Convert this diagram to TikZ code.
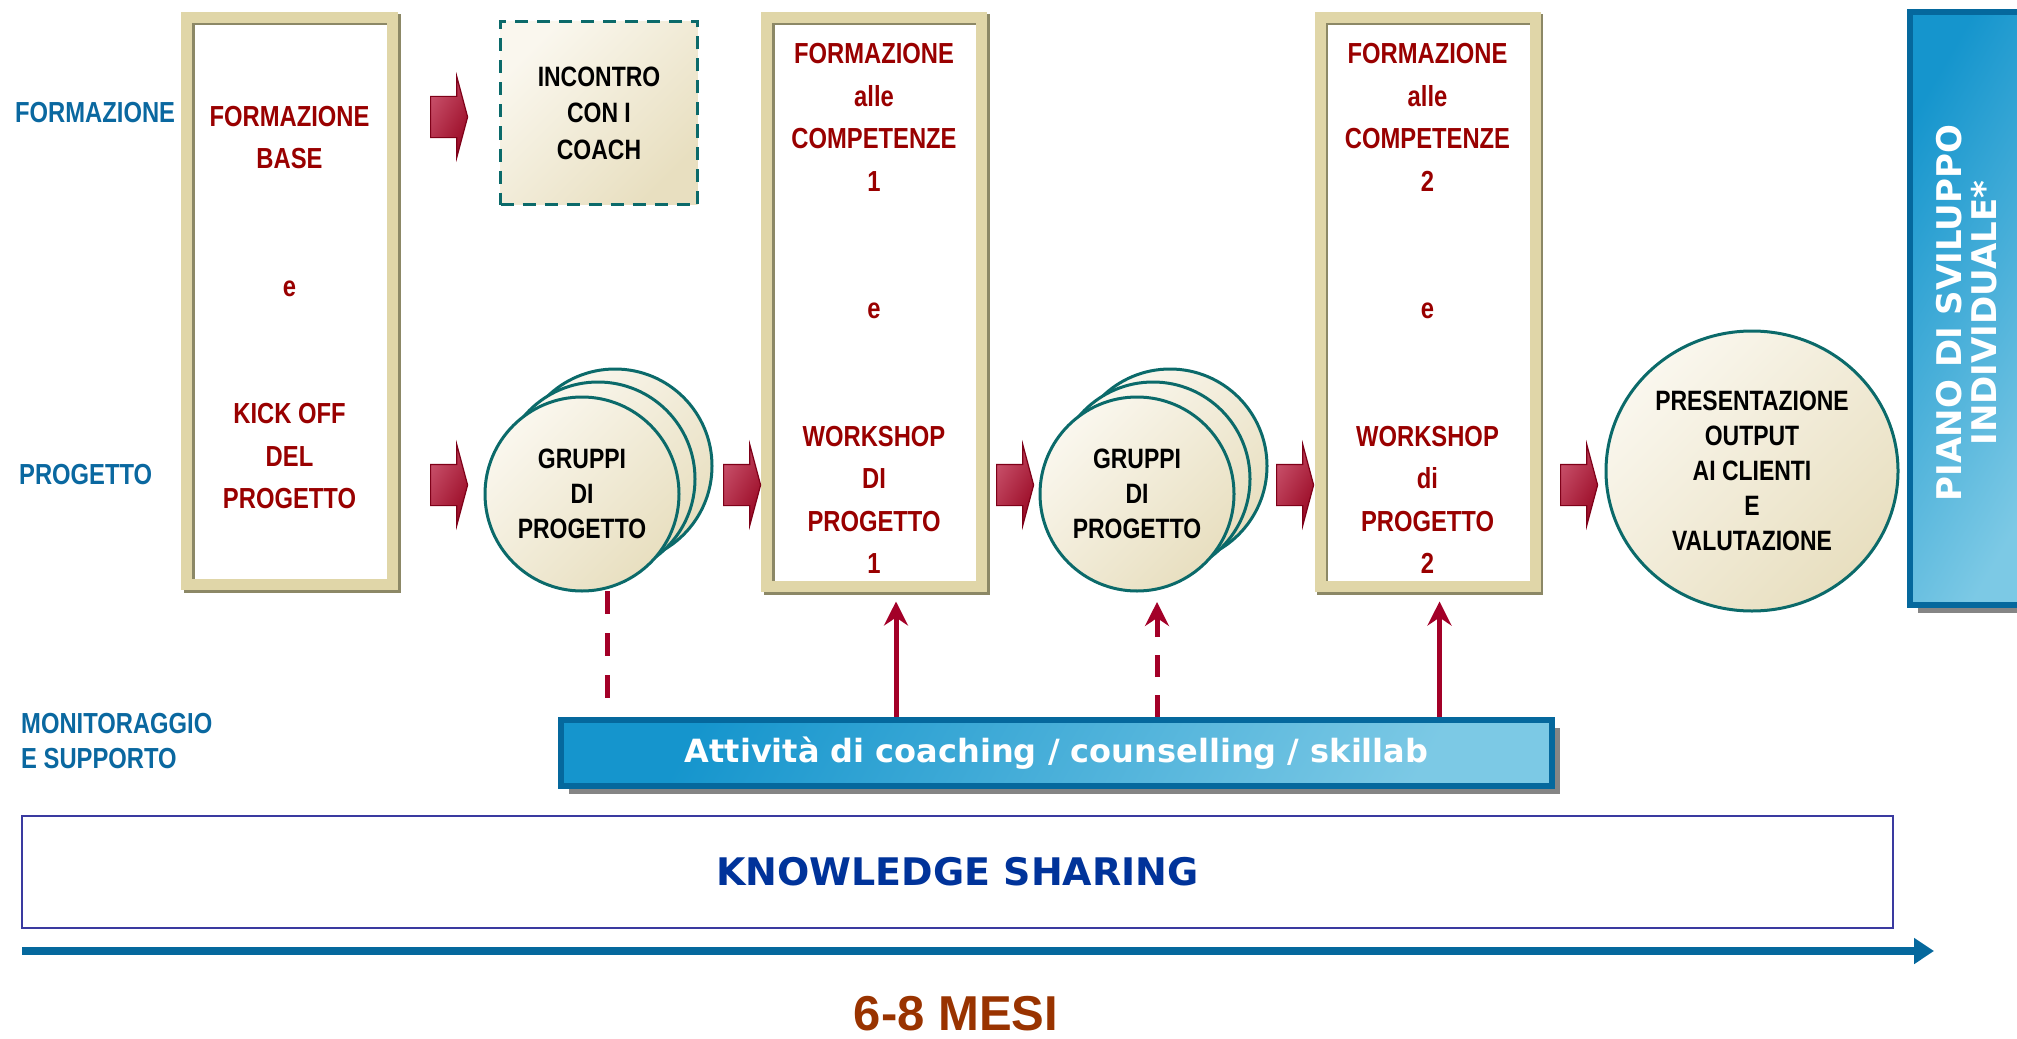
\documentclass[tikz,border=0pt]{standalone}
\usepackage{fontspec}
\setmainfont{Liberation Sans}
\newfontfamily\narrowsans{Liberation Sans}[FakeStretch=0.82]
\newfontfamily\widesans{DejaVu Sans}
\usepackage{tikz}
\usetikzlibrary{arrows.meta,positioning,shapes.geometric,shapes.arrows,shadows}

\definecolor{khaki}{HTML}{E0D6A8}
\definecolor{khakidark}{HTML}{8C8866}
\definecolor{boxred}{HTML}{990000}
\definecolor{creamlt}{HTML}{FAF7EE}
\definecolor{creamdk}{HTML}{E8DFC0}
\definecolor{tealline}{HTML}{0B6A6A}
\definecolor{arrowlt}{HTML}{C8506A}
\definecolor{arrowdk}{HTML}{9A0A25}
\definecolor{arrowline}{HTML}{7E0018}
\definecolor{linkred}{HTML}{A30028}
\definecolor{blueline}{HTML}{05689D}
\definecolor{bluedk}{HTML}{1595CD}
\definecolor{bluelt}{HTML}{7CC9E5}
\definecolor{labelblue}{HTML}{0A68A0}
\definecolor{ksblue}{HTML}{00339A}
\definecolor{ksline}{HTML}{3A3AA0}
\definecolor{mesibrown}{HTML}{993300}

\begin{document}
\begin{tikzpicture}[x=1pt, y=-1pt,
  lbl/.style={text=labelblue, inner sep=0pt, font=\narrowsans\bfseries\fontsize{29}{35}\selectfont},
  phase/.style={draw=khaki, line width=11pt, inner sep=0pt, outer sep=0pt, align=center,
    minimum width=215pt, minimum height=569pt, text=boxred,
    font=\narrowsans\bfseries\fontsize{29}{42.5}\selectfont,
    preaction={fill=white, draw=none},
    preaction={draw=khakidark, fill=none, transform canvas={xshift=2.5pt, yshift=-2.5pt}}},
  cream/.style={draw=tealline, line width=3pt, inner sep=0pt, outer sep=0pt, align=center,
    left color=creamlt, right color=creamdk, shading angle=45,
    font=\narrowsans\bfseries\fontsize{28}{35}\selectfont},
  grp/.style={cream, circle, minimum size=194pt},
  coach/.style={cream, rectangle, dash pattern=on 13pt off 9pt, minimum width=197pt, minimum height=183pt,
    font=\narrowsans\bfseries\fontsize{28}{36.5}\selectfont},
  blockarrow/.style={single arrow, draw=arrowline, line width=1.2pt, inner sep=0pt,
    left color=arrowlt, right color=arrowdk, shading angle=60,
    text height=40pt, text depth=0pt, minimum height=37pt,
    single arrow head extend=20pt, single arrow tip angle=150, anchor=tail},
  bluebox/.style={draw=blueline, line width=6pt, inner sep=0pt, outer sep=0pt,
    left color=bluedk, right color=bluelt, shading angle=60,
    drop shadow={shadow xshift=8pt, shadow yshift=-8pt, fill=black!48, opacity=1, draw=none}},
  link/.style={draw=linkred, line width=5pt, shorten <=3pt,
    -{Stealth[length=24pt, width=24pt, inset=8pt]}},
  linkdash/.style={link, dash pattern=on 22pt off 18pt},
  dashline/.style={draw=linkred, line width=5pt, dash pattern=on 23pt off 19pt},
  timeline/.style={draw=blueline, line width=8.3pt, -{Triangle[length=20pt, width=25pt]}}
]
  \useasboundingbox (0,0) rectangle (2017,1038);

  % Row labels
  \node[lbl, anchor=west] (lform) at (15,113) {FORMAZIONE};
  \node[lbl, anchor=west] (lprog) at (19,475) {PROGETTO};
  \node[lbl, anchor=west, align=left] (lmon) at (21,741) {MONITORAGGIO\\E SUPPORTO};

  % Phases
  \node[phase, minimum width=206pt, minimum height=567pt] (base) at (289.5,301)
    {\rule{0pt}{33pt}FORMAZIONE\\BASE\\[85pt]e\\[85pt]KICK OFF\\DEL\\PROGETTO};
  \node[phase] (comp1) at (874,302)
    {\rule{0pt}{33pt}FORMAZIONE\\alle\\COMPETENZE\\1\\[85pt]e\\[85pt]WORKSHOP\\DI\\PROGETTO\\1};
  \node[phase] (comp2) at (1427.5,302)
    {\rule{0pt}{33pt}FORMAZIONE\\alle\\COMPETENZE\\2\\[85pt]e\\[85pt]WORKSHOP\\di\\PROGETTO\\2};

  % Coach meeting
  \node[coach] (coach) at (599,113) {INCONTRO\\CON I\\COACH};

  % Project groups
  \node[grp] (g1c) at (615,466) {};
  \node[grp] (g1b) at (598,479) {};
  \node[grp] (g1a) at (582,494) {GRUPPI\\DI\\PROGETTO};
  \node[grp] (g2c) at (1170,466) {};
  \node[grp] (g2b) at (1153,479) {};
  \node[grp] (g2a) at (1137,494) {GRUPPI\\DI\\PROGETTO};

  % Final presentation
  \node[cream, ellipse, minimum width=292pt, minimum height=280pt] (pres) at (1752,471)
    {PRESENTAZIONE\\OUTPUT\\AI CLIENTI\\E\\VALUTAZIONE};

  % Block arrows
  \node[blockarrow] (a1) at (430,117) {};
  \node[blockarrow] (a2) at (430,485) {};
  \node[blockarrow] (a3) at (723,485) {};
  \node[blockarrow] (a4) at (996,485) {};
  \node[blockarrow] (a5) at (1276,485) {};
  \node[blockarrow] (a6) at (1560,485) {};

  % Individual plan
  \node[bluebox, minimum width=125pt, minimum height=592pt] (piano) at (1972,308.5) {};
  \node[rotate=90, align=center, text=white, inner sep=0pt,
    font=\widesans\bfseries\fontsize{34}{35}\selectfont] (pianotxt) at (1967,313)
    {PIANO DI SVILUPPO\\INDIVIDUALE*};

  % Coaching bar
  \node[bluebox, minimum width=991pt, minimum height=66pt, text=white,
    font=\widesans\bfseries\fontsize{32}{36}\selectfont] (bar) at (1056.5,753)
    {Attività di coaching / counselling / skillab};

  % Knowledge sharing
  \node[draw=ksline, line width=1.5pt, minimum width=1871pt, minimum height=112pt,
    inner sep=0pt, text=ksblue, font=\widesans\bfseries\fontsize{38}{40}\selectfont]
    (ks) at (957.5,872) {KNOWLEDGE SHARING};

  % Time line
  \coordinate (t0) at (22,951);
  \coordinate (t1) at (1934,951);
  \draw[timeline] (t0) -- (t1);
  \node[text=mesibrown, inner sep=0pt, font=\bfseries\fontsize{49}{54}\selectfont] (mesi) at (956,1014) {6-8 MESI};

  % Support links
  \draw[dashline, shorten >=4pt] ([xshift=25pt]g1a.south) -- ([xshift=25pt]g1a.south |- bar.north);
  \draw[link] ([xshift=22pt]comp1.south |- bar.north) -- ([xshift=22pt, yshift=-15pt]comp1.south);
  \draw[linkdash] ([xshift=20pt]g2a.south |- bar.north) -- ([xshift=20pt, yshift=-11pt]g2a.south);
  \draw[link] ([xshift=12pt]comp2.south |- bar.north) -- ([xshift=12pt, yshift=-15pt]comp2.south);
\end{tikzpicture}
\end{document}
